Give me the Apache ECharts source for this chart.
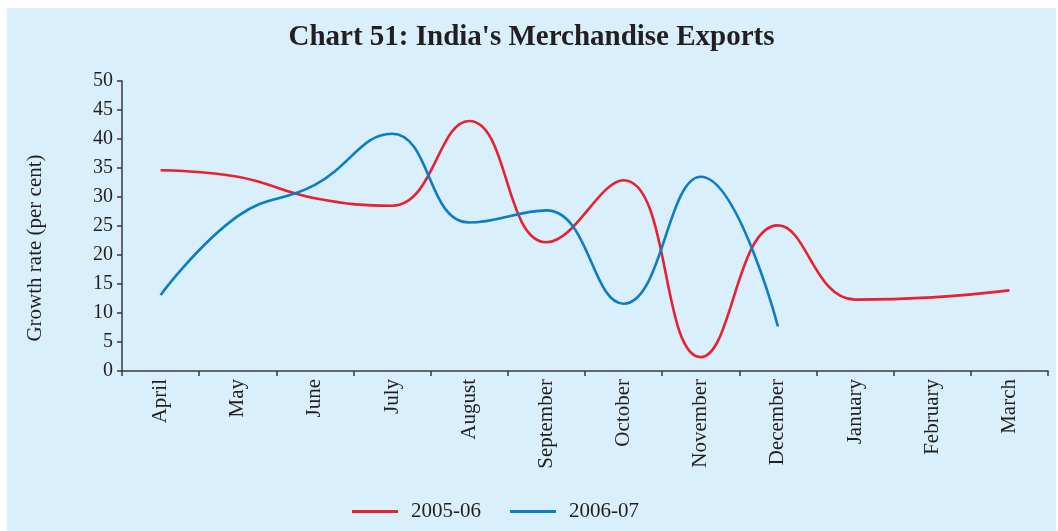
<!DOCTYPE html>
<html>
<head>
<meta charset="utf-8">
<script src="https://cdn.jsdelivr.net/npm/echarts@6/dist/echarts.min.js"></script>
<style>
html,body{margin:0;padding:0;background:#ffffff;width:1058px;height:531px;overflow:hidden;}
#chart{position:absolute;left:7px;top:8px;width:1049px;height:523px;background:#d9effb;}
</style>
</head>
<body>
<div id="chart"></div>
<script>
var months = ['April','May','June','July','August','September','October','November','December','January','February','March'];
var seriesNames = ['2005-06','2006-07'];
var exports0506 = [34.6, 33.5, 29.8, 28.5, 43.1, 22.2, 32.9, 2.4, 25.1, 12.3, 12.7, 13.9];
var exports0607 = [13.1, 26.7, 32.1, 40.9, 25.6, 27.7, 11.6, 33.5, 7.7, null, null, null];
var yTicks = [0, 5, 10, 15, 20, 25, 30, 35, 40, 45, 50];
var yName = 'Growth rate (per cent)';
var titleText = "Chart 51: India's Merchandise Exports";

var serif = "'Liberation Serif','DejaVu Serif',serif";
var chart = echarts.init(document.getElementById('chart'));
chart.setOption({
  backgroundColor: '#d9effb',
  animation: false,
  title: {
    text: titleText,
    left: 'center',
    top: 10,
    textStyle: {fontFamily: serif, fontWeight: 'bold', fontSize: 29, color: '#231f20'}
  },
  legend: {
    left: 340,
    bottom: 4,
    icon: 'rect',
    itemWidth: 46,
    itemHeight: 3,
    itemGap: 29,
    textStyle: {fontFamily: serif, fontSize: 21, color: '#231f20', padding: [0, 0, 0, 8]},
    data: seriesNames
  },
  grid: {left: 115, right: 8, top: 73, bottom: 160, containLabel: false},
  xAxis: {
    type: 'category',
    data: months,
    boundaryGap: true,
    axisLine: {lineStyle: {color: '#3a3a3a', width: 1.5}},
    axisTick: {show: true, length: 5, alignWithLabel: false, lineStyle: {color: '#3a3a3a', width: 1.5}},
    axisLabel: {rotate: 90, margin: 8, fontFamily: serif, fontSize: 21, color: '#231f20', interval: 0}
  },
  yAxis: {
    type: 'value',
    min: yTicks[0],
    max: yTicks[yTicks.length - 1],
    interval: 5,
    splitLine: {show: false},
    axisLine: {show: true, lineStyle: {color: '#3a3a3a', width: 1.5}},
    axisTick: {show: true, length: 5, lineStyle: {color: '#3a3a3a', width: 1.5}},
    axisLabel: {margin: 9, fontFamily: serif, fontSize: 20, color: '#231f20'}
  },
  graphic: [{
    type: 'text',
    x: 28,
    y: 240,
    rotation: Math.PI / 2,
    style: {text: yName, font: "21px 'Liberation Serif', serif", fill: '#231f20', textAlign: 'center', textVerticalAlign: 'middle'}
  }],
  series: [
    {name: seriesNames[0], type: 'line', data: exports0506, smooth: 0.45, symbol: 'none',
     lineStyle: {color: '#e8202f', width: 2.6}, itemStyle: {color: '#e8202f'}},
    {name: seriesNames[1], type: 'line', data: exports0607, smooth: 0.45, symbol: 'none',
     lineStyle: {color: '#0a7dc4', width: 2.6}, itemStyle: {color: '#0a7dc4'}}
  ]
});
</script>
</body>
</html>
